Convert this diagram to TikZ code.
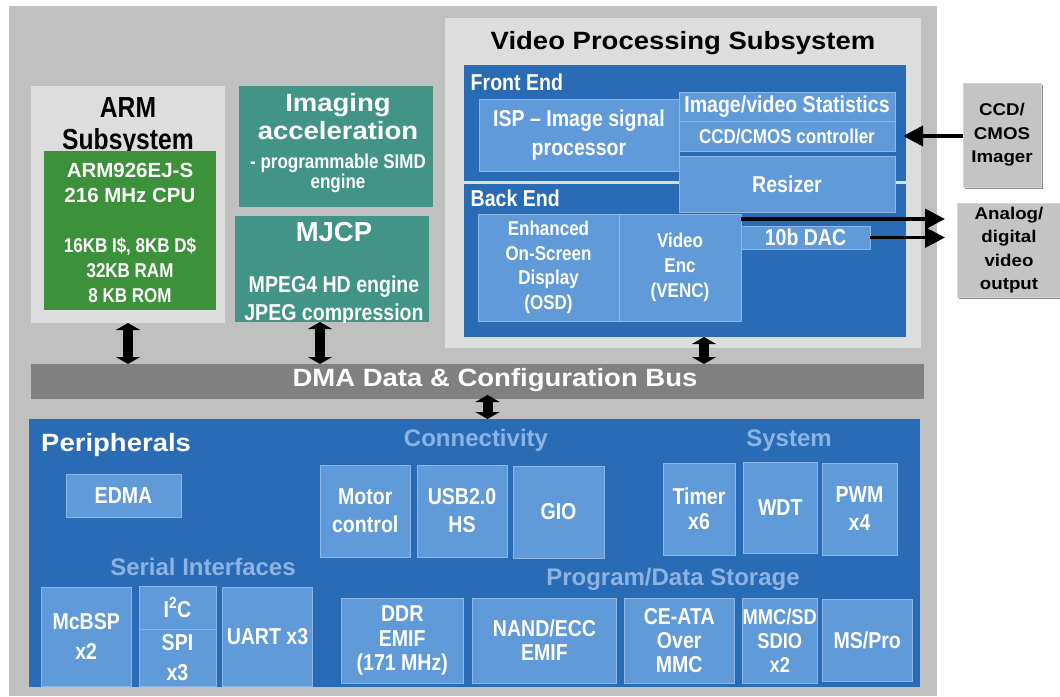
\documentclass[tikz,border=0pt]{standalone}
\usepackage{fontspec}
\setmainfont{Liberation Sans}
\newfontfamily\narrowsf[FakeStretch=0.85]{Liberation Sans}
\newfontfamily\widesf[FakeStretch=1.1]{Liberation Sans}
\usepackage{tikz}
\usetikzlibrary{arrows.meta, shadows}
\newcommand{\fsz}[2]{\fontsize{#1}{#2}\selectfont}

\definecolor{outergray}{RGB}{192,192,192}
\definecolor{panelgray}{RGB}{221,221,221}
\definecolor{armgreen}{RGB}{60,145,58}
\definecolor{accteal}{RGB}{65,148,134}
\definecolor{deepblue}{RGB}{42,107,181}
\definecolor{unitblue}{RGB}{96,154,216}
\definecolor{unitedge}{RGB}{140,182,230}
\definecolor{hdrblue}{RGB}{141,179,226}
\definecolor{busgray}{RGB}{128,128,128}
\definecolor{extgray}{RGB}{196,196,196}
\definecolor{extedge}{RGB}{214,214,214}

\tikzset{
	panel/.style={anchor=north west, inner sep=0pt, outer sep=0pt},
	sz/.style 2 args={minimum width=#1pt, minimum height=#2pt},
	lbl/.style={inner sep=0pt, align=center},
	unit/.style={panel, fill=unitblue, draw=unitedge, line width=0.8pt, text=white, align=center, font=\narrowsf\bfseries\fsz{23}{25}},
	hdr/.style={inner sep=0pt, text=hdrblue, font=\bfseries\fsz{24}{26}},
	extbox/.style={panel, fill=extgray, draw=extedge, line width=1pt, align=center, font=\widesf\bfseries\fsz{17}{23.5}, drop shadow={shadow xshift=2pt, shadow yshift=-2pt, fill=black!45, opacity=1}},
	flow/.style={line width=3.5pt, -{Triangle[length=20pt, width=20pt]}},
	busarrow/.style={line width=10pt, {Triangle[length=7pt, width=24pt]}-{Triangle[length=7pt, width=24pt]}}
}

\begin{document}
\begin{tikzpicture}[x=1pt, y=-1pt]
	\useasboundingbox (0,0) rectangle (1060,696);
	
	\node [panel, sz={928}{690}, fill=outergray] (outer) at (9,6) {};
	
	% ARM subsystem
	\node [panel, sz={194}{237}, fill=panelgray] (armsub) at (31,86) {};
	\node [lbl, font=\narrowsf\bfseries\fsz{29}{32}] (armtitle) at (128,126.6) {ARM\\Subsystem};
	\node [panel, sz={172}{159}, fill=armgreen] (armcpu) at (44,151) {};
	\node [lbl, text=white, font=\bfseries\fsz{20.5}{25}] (armcore) at (130,183) {ARM926EJ-S\\216 MHz CPU};
	\node [lbl, text=white, font=\narrowsf\bfseries\fsz{20}{25}] (armmem) at (130,270) {16KB I\$, 8KB D\$\\32KB RAM\\8 KB ROM};
	
	% accelerators
	\node [panel, sz={194}{121}, fill=accteal] (imgacc) at (239,86) {};
	\node [lbl, text=white, font=\widesf\bfseries\fsz{25}{28}] (imgtitle) at (338,116.7) {Imaging\\acceleration};
	\node [lbl, text=white, font=\narrowsf\bfseries\fsz{20}{20}] (imgsub) at (338,173) {- programmable SIMD\\engine};
	\node [panel, sz={194}{106}, fill=accteal] (mjcp) at (235,216) {};
	\node [lbl, text=white, font=\bfseries\fsz{27.5}{30}] (mjcptitle) at (334,232) {MJCP};
	\begin{scope}
		\clip (mjcp.north west) rectangle (mjcp.south east);
		\node [lbl, text=white, font=\narrowsf\bfseries\fsz{23}{27.5}] (mjcpsub) at (334,300.5) {MPEG4 HD engine\\JPEG compression};
	\end{scope}
	
	% video processing subsystem
	\node [panel, sz={476}{330}, fill=panelgray] (vps) at (445,18) {};
	\node [lbl, font=\widesf\bfseries\fsz{25}{28}] (vpstitle) at (683,43) {Video Processing Subsystem};
	\node [panel, sz={442}{116}, fill=deepblue] (fe) at (464,65) {};
	\node [panel, sz={442}{153}, fill=deepblue] (be) at (464,184) {};
	\node [lbl, anchor=west, text=white, font=\narrowsf\bfseries\fsz{23}{25}] (fetitle) at (470.5,82.4) {Front End};
	\node [lbl, anchor=west, text=white, font=\narrowsf\bfseries\fsz{23}{25}] (betitle) at (470.5,198.5) {Back End};
	\node [unit, sz={200}{72}, font=\narrowsf\bfseries\fsz{23}{28.5}] (isp) at (479,99) {ISP – Image signal\\processor};
	\node [unit, sz={216}{28.5}] (stats) at (679,92.5) {Image/video Statistics};
	\node [unit, sz={216}{30}, font=\narrowsf\bfseries\fsz{20}{22}] (ccdctrl) at (679,121) {CCD/CMOS controller};
	\node [unit, sz={216}{56}] (resizer) at (679,156) {Resizer};
	\node [unit, sz={141}{107}, font=\narrowsf\bfseries\fsz{20}{24.5}] (osd) at (478,214) {Enhanced\\On-Screen\\Display\\(OSD)};
	\node [unit, sz={122}{107}, font=\narrowsf\bfseries\fsz{20}{25}] (venc) at (619,214) {Video\\Enc\\(VENC)};
	\node [unit, sz={129}{23}] (dac) at (741,226) {10b DAC};
	
	% outside the chip
	\node [extbox, sz={78}{104}] (imager) at (963,83) {CCD/\\CMOS\\Imager};
	\node [extbox, sz={104}{94}] (vout) at (957,203) {Analog/\\digital\\video\\output};
	
	\coordinate (voutA) at (945,219);
	\coordinate (voutB) at (945,237.5);
	\draw [flow] (venc.east |- voutA) -- (voutA);
	\draw [flow] (dac.east) -- (dac.east -| voutB);
	\draw [flow] (imager.west |- ccdctrl.east) -- ([xshift=8pt]ccdctrl.east);
	
	% bus
	\node [panel, sz={893}{35}, fill=busgray] (bus) at (31,364) {};
	\node [lbl, text=white, font=\widesf\bfseries\fsz{25}{28}] (bustitle) at (495,380) {DMA Data \& Configuration Bus};
	
	\coordinate (mjcpport) at ([xshift=-12pt]mjcp.south);
	\coordinate (vpsport) at ([xshift=19pt]be.south);
	\draw [busarrow] (armsub.south) -- (armsub.south |- bus.north);
	\draw [busarrow] (mjcpport) -- (mjcpport |- bus.north);
	\draw [busarrow] (vpsport) -- (vpsport |- bus.north);
	
	% peripherals
	\node [panel, sz={891}{268}, fill=deepblue] (periph) at (29,419) {};
	\coordinate (periphport) at ([xshift=10pt, yshift=4pt]bus.south);
	\draw [busarrow] (periphport) -- (periphport |- periph.north);
	
	\node [lbl, anchor=west, text=white, font=\widesf\bfseries\fsz{25}{28}] (periphtitle) at (41,445) {Peripherals};
	\node [hdr] (connhdr) at (476,440.5) {Connectivity};
	\node [hdr] (syshdr) at (789,440.5) {System};
	\node [hdr] (serhdr) at (203,567) {Serial Interfaces};
	\node [hdr] (storhdr) at (673,579) {Program/Data Storage};
	
	\node [unit, sz={115}{43}] (edma) at (66,474) {EDMA};
	\node [unit, sz={90.5}{92}, font=\narrowsf\bfseries\fsz{23}{28}] (motor) at (320,465) {Motor\\control};
	\node [unit, sz={90}{92}, font=\narrowsf\bfseries\fsz{23}{28}] (usb) at (417,465) {USB2.0\\HS};
	\node [unit, sz={91}{92}] (gio) at (513,466) {GIO};
	\node [unit, sz={72}{92}] (timer) at (663,463) {Timer\\x6};
	\node [unit, sz={74.5}{91}] (wdt) at (743,462) {WDT};
	\node [unit, sz={75}{92}, font=\narrowsf\bfseries\fsz{23}{28}] (pwm) at (822,463) {PWM\\x4};
	
	\node [unit, sz={90.5}{99}, font=\narrowsf\bfseries\fsz{23}{30}] (mcbsp) at (41,587) {McBSP\\x2};
	\node [unit, sz={77}{43}] (iic) at (139,586) {I\textsuperscript{2}C};
	\node [unit, sz={77}{57}, font=\narrowsf\bfseries\fsz{23}{30}] (spi) at (139,629) {SPI\\x3};
	\node [unit, sz={90}{99}] (uart) at (222.5,587) {UART x3};
	
	\node [unit, sz={122.5}{85}, font=\narrowsf\bfseries\fsz{23}{24.5}] (ddr) at (341,598) {DDR\\EMIF\\(171 MHz)};
	\node [unit, sz={144}{85}, font=\narrowsf\bfseries\fsz{23}{24}] (nand) at (472.5,598) {NAND/ECC\\EMIF};
	\node [unit, sz={110.5}{85}, font=\narrowsf\bfseries\fsz{23}{24}] (ceata) at (624,598) {CE-ATA\\Over\\MMC};
	\node [unit, sz={74.5}{85}, font=\narrowsf\bfseries\fsz{21.5}{24}] (mmcsd) at (742.5,598) {MMC/SD\\SDIO\\x2};
	\node [unit, sz={90.5}{82}] (mspro) at (822,599) {MS/Pro};
\end{tikzpicture}
\end{document}
